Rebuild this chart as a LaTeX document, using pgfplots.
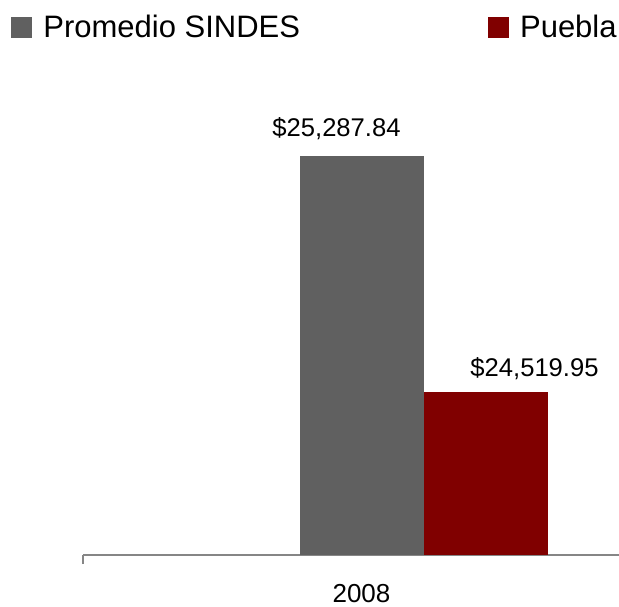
\documentclass[border=0pt]{standalone}
\usepackage{pgfplots}
\pgfplotsset{compat=1.18}
\usepackage{fontspec}
\setmainfont{Liberation Sans}
\definecolor{sindes}{HTML}{606060}
\definecolor{puebla}{HTML}{800000}
\definecolor{axisgray}{HTML}{868686}
\begin{document}
\begin{tikzpicture}
\path[use as bounding box] (0,0) rectangle (309.5pt,303pt);
\begin{axis}[
    at={(41.5pt,25.5pt)}, anchor=south west,
    scale only axis,
    width=271.75pt, height=232pt,
    xmin=-278.5, xmax=265,
    ymin=23990, ymax=25500,
    axis x line*=bottom,
    hide y axis,
    axis line style={axisgray, line width=1pt},
    x axis line style={shorten >=-20pt},
    xtick={0}, xticklabels={2008},
    major tick length=0pt,
    extra x ticks={-278.5},
    extra x tick labels={},
    extra x tick style={major tick length=4.5pt, tick align=outside,
        tick style={axisgray, line width=1pt}},
    xticklabel style={font=\fontsize{13}{15}\selectfont, anchor=base, yshift=-23.5pt},
    ybar, bar width=124,
    nodes near coords,
    point meta=explicit symbolic,
    nodes near coords style={font=\fontsize{12.8}{15}\selectfont, anchor=base},
    legend columns=2,
    legend style={draw=none, fill=none, inner sep=0pt,
        at={(-0.1325,1.1647)}, anchor=north west,
        font=\fontsize{15.5}{18}\selectfont,
        /tikz/every odd column/.append style={column sep=5.5pt},
        /tikz/every even column/.append style={column sep=94pt},
        nodes={inner sep=0pt}},
    legend image code/.code={\fill[#1] (0pt,-5.25pt) rectangle (10.5pt,5.25pt);},
]
\addplot[fill=sindes, draw=none, bar shift=0pt,
    every node near coord/.append style={xshift=-12.5pt, yshift=10pt}]
    coordinates {(0,25287.84) [\$25,287.84]};
\addplot[fill=puebla, draw=none, bar shift=0pt,
    every node near coord/.append style={xshift=24.5pt, yshift=8pt}]
    coordinates {(124,24519.95) [\$24,519.95]};
\legend{Promedio SINDES, Puebla}
\end{axis}
\end{tikzpicture}
\end{document}
